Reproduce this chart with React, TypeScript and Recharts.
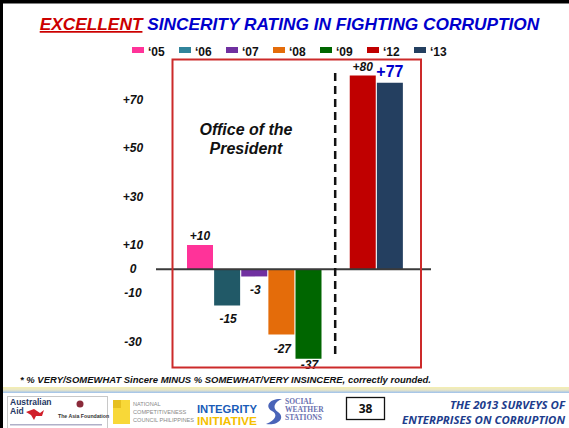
import React from "react";
import { BarChart, Bar, XAxis, YAxis, Cell, LabelList, ReferenceLine } from "recharts";

// ---- data ----
const categories = ["05", "06", "07", "08", "09", "gap", "12", "13"];
const values = [10, -15, -3, -27, -37, null, 80, 77];
const valueLabels = ["+10", "-15", "-3", "-27", "-37", "", "+80", "+77"];
const legendLabels = ["\u201805", "\u201806", "\u201807", "\u201808", "\u201809", "\u201812", "\u201813"];
const yTicks = [70, 50, 30, 10, 0, -10, -30];
const yTickLabels = ["+70", "+50", "+30", "+10", "0", "-10", "-30"];

// ---- styles ----
const barColors = ["#ff3399", "#215967", "#7030a0", "#e46c0a", "#006600", "transparent", "#c00000", "#243f60"];
const legendColors = ["#ff3399", "#31849b", "#7030a0", "#e46c0a", "#006600", "#c00000", "#243f60"];
const highlightCategory = "13";
const FONT = "'Liberation Sans', Arial, sans-serif";

const data = categories.map((c, i) => ({ cat: c, value: values[i], label: valueLabels[i] }));

const YTick = (props: any) => {
  const { x, y, payload } = props;
  const idx = yTicks.indexOf(payload.value);
  return (
    <text x={x} y={y} dy={4} textAnchor="middle" fontFamily={FONT} fontSize={12} fontWeight="bold" fontStyle="italic" fill="#111">
      {idx >= 0 ? yTickLabels[idx] : payload.value}
    </text>
  );
};

const BarLabel = (props: any) => {
  const { x, y, width, height, value } = props;
  if (!value) return null;
  const idx = valueLabels.indexOf(value);
  if (idx < 0) return null;
  const v = values[idx] as number;
  const top = Math.min(y, y + height);
  const bottom = Math.max(y, y + height);
  const cx = x + width / 2;
  const hl = categories[idx] === highlightCategory;
  const ly = v >= 0 ? top - (hl ? 11 : 9) : Math.min(bottom + 14, 365);
  return (
    <text
      x={cx + (v < 0 ? 1 : 0)}
      y={ly}
      dy={hl ? 5.5 : 4}
      textAnchor="middle"
      fontFamily={FONT}
      fontSize={hl ? 16 : 12}
      fontWeight="bold"
      fontStyle={hl ? "normal" : "italic"}
      fill={hl ? "#0000cc" : "#111"}
    >
      {value}
    </text>
  );
};

export default function App() {
  return (
    <div style={{ position: "absolute", left: 0, top: 0, width: 569, height: 428, background: "#fff", overflow: "hidden", fontFamily: FONT }}>
      <div style={{ position: "absolute", left: 0, top: 0 }}>
        <BarChart width={569} height={428} data={data} margin={{ top: 61, bottom: 62, left: 96, right: 138 }} barSize={26}>
          <XAxis dataKey="cat" hide padding={{ left: 30, right: 28 }} />
          <YAxis
            width={60}
            domain={[-40, 86]}
            allowDataOverflow
            ticks={yTicks}
            interval={0}
            axisLine={false}
            tickLine={false}
            tickMargin={17}
            tick={<YTick />}
          />
          <Bar dataKey="value" isAnimationActive={false}>
            {data.map((d, i) => (
              <Cell key={d.cat} fill={barColors[i]} />
            ))}
            <LabelList dataKey="label" content={<BarLabel />} />
          </Bar>
          <ReferenceLine y={0} stroke="#3a3a3a" strokeWidth={2} />
          <ReferenceLine
            segment={[{ x: "gap", y: 81 }, { x: "gap", y: -36.5 }]}
            stroke="#111"
            strokeWidth={2.5}
            strokeDasharray="8 5"
          />
        </BarChart>
      </div>
      <svg width={569} height={428} style={{ position: "absolute", left: 0, top: 0, pointerEvents: "none" }}>
        {/* slide border */}
        <rect x={0} y={0} width={569} height={3.5} fill="#000" />
        <rect x={0} y={0} width={3} height={428} fill="#000" />
        {/* title */}
        <text x={289.5} y={30} textAnchor="middle" fontFamily={FONT} fontSize={17.3} fontWeight="bold" fontStyle="italic">
          <tspan fill="#cc0000" style={{ textDecoration: "underline" }}>EXCELLENT</tspan>
          <tspan fill="#0000cc"> SINCERITY RATING IN FIGHTING CORRUPTION</tspan>
        </text>
        {/* legend */}
        {legendLabels.map((l, i) => (
          <g key={l}>
            <rect x={132 + i * 47} y={47} width={12} height={6} fill={legendColors[i]} />
            <text x={148 + i * 47} y={56} fontFamily={FONT} fontSize={12} fontWeight="bold" fill="#111">{l}</text>
          </g>
        ))}
        {/* red frame */}
        <rect x={172.5} y={59.5} width={248.5} height={308} fill="none" stroke="#cc2a2a" strokeWidth={2} />
        {/* office text */}
        <text x={246} y={135} textAnchor="middle" fontFamily={FONT} fontSize={16} fontWeight="bold" fontStyle="italic" fill="#111">Office of the</text>
        <text x={246} y={154} textAnchor="middle" fontFamily={FONT} fontSize={16} fontWeight="bold" fontStyle="italic" fill="#111">President</text>
        {/* footnote */}
        <text x={20} y={383} fontFamily={FONT} fontSize={9} fontWeight="bold" fontStyle="italic" fill="#111" textLength={411} lengthAdjust="spacingAndGlyphs">
          * % VERY/SOMEWHAT Sincere MINUS % SOMEWHAT/VERY INSINCERE, correctly rounded.
        </text>
        {/* footer band */}
        <defs>
          <linearGradient id="band" x1="0" y1="0" x2="0" y2="1">
            <stop offset="0" stopColor="#f4eeb0" />
            <stop offset="0.5" stopColor="#e8e6c8" />
            <stop offset="1" stopColor="#9cc0ee" />
          </linearGradient>
        </defs>
        <rect x={3} y={387} width={566} height={6} fill="url(#band)" />
        {/* Australian Aid / Asia Foundation */}
        <rect x={7.5} y={396.5} width={100} height={32} fill="#fff" stroke="#c8c8c8" />
        <text x={10} y={405} fontFamily={FONT} fontSize={8.5} fontWeight="bold" fill="#1f3864">Australian</text>
        <text x={10} y={414} fontFamily={FONT} fontSize={8.5} fontWeight="bold" fill="#1f3864">Aid</text>
        <path d="M26 412 L34 409 L40 413 L44 410 L42 416 L36 416 L34 420 L31 415 Z" fill="#d01f2a" />
        <circle cx={80} cy={404} r={3.5} fill="#8a2a3a" />
        <text x={58} y={418} fontFamily={FONT} fontSize={5.2} fontWeight="bold" fill="#333">The Asia Foundation</text>
        <rect x={10} y={424} width={92} height={1.5} fill="#b0b0c8" />
        {/* NCC */}
        <rect x={113} y={400} width={17} height={24} fill="#f8d838" />
        <rect x={113} y={400} width={8} height={8} fill="#e6c020" />
        <text x={133} y={406} fontFamily={FONT} fontSize={5.6} fill="#888">NATIONAL</text>
        <text x={133} y={414} fontFamily={FONT} fontSize={5.6} fill="#888">COMPETITIVENESS</text>
        <text x={133} y={422} fontFamily={FONT} fontSize={5.6} fill="#888">COUNCIL PHILIPPINES</text>
        {/* Integrity Initiative */}
        <text x={197} y={413} fontFamily={FONT} fontSize={10.5} fontWeight="bold" fill="#1a5cb8" textLength={60} lengthAdjust="spacingAndGlyphs">INTEGRITY</text>
        <text x={197} y={425} fontFamily={FONT} fontSize={10.5} fontWeight="bold" fill="#f5c000" textLength={60} lengthAdjust="spacingAndGlyphs">INITIATIVE</text>
        {/* SWS */}
        <path d="M282 399 C270 398 264 406 272 411 C278 414 276 420 266 424 C278 426 286 418 278 412 C272 408 274 402 282 399 Z" fill="#4a64b8" />
        <text x={285} y={404} fontFamily="'Liberation Serif', serif" fontSize={7.5} fontWeight="bold" fill="#6a70b0">SOCIAL</text>
        <text x={285} y={412} fontFamily="'Liberation Serif', serif" fontSize={7.5} fontWeight="bold" fill="#6a70b0">WEATHER</text>
        <text x={285} y={420} fontFamily="'Liberation Serif', serif" fontSize={7.5} fontWeight="bold" fill="#6a70b0">STATIONS</text>
        {/* page number */}
        <rect x={346.5} y={397.5} width={38} height={22} fill="#fff" stroke="#111" strokeWidth={1.3} />
        <text x={365.5} y={413} textAnchor="middle" fontFamily="'Open Sans', sans-serif" fontSize={12} fontWeight="bold" fill="#111">38</text>
        {/* survey title */}
        <text x={565} y={409} textAnchor="end" fontFamily="'Open Sans', sans-serif" fontSize={11} fontWeight="bold" fontStyle="italic" fill="#203c8c" textLength={115} lengthAdjust="spacingAndGlyphs">THE 2013 SURVEYS OF</text>
        <text x={565} y={424} textAnchor="end" fontFamily="'Open Sans', sans-serif" fontSize={11} fontWeight="bold" fontStyle="italic" fill="#203c8c" textLength={163} lengthAdjust="spacingAndGlyphs">ENTERPRISES ON CORRUPTION</text>
      </svg>
    </div>
  );
}
